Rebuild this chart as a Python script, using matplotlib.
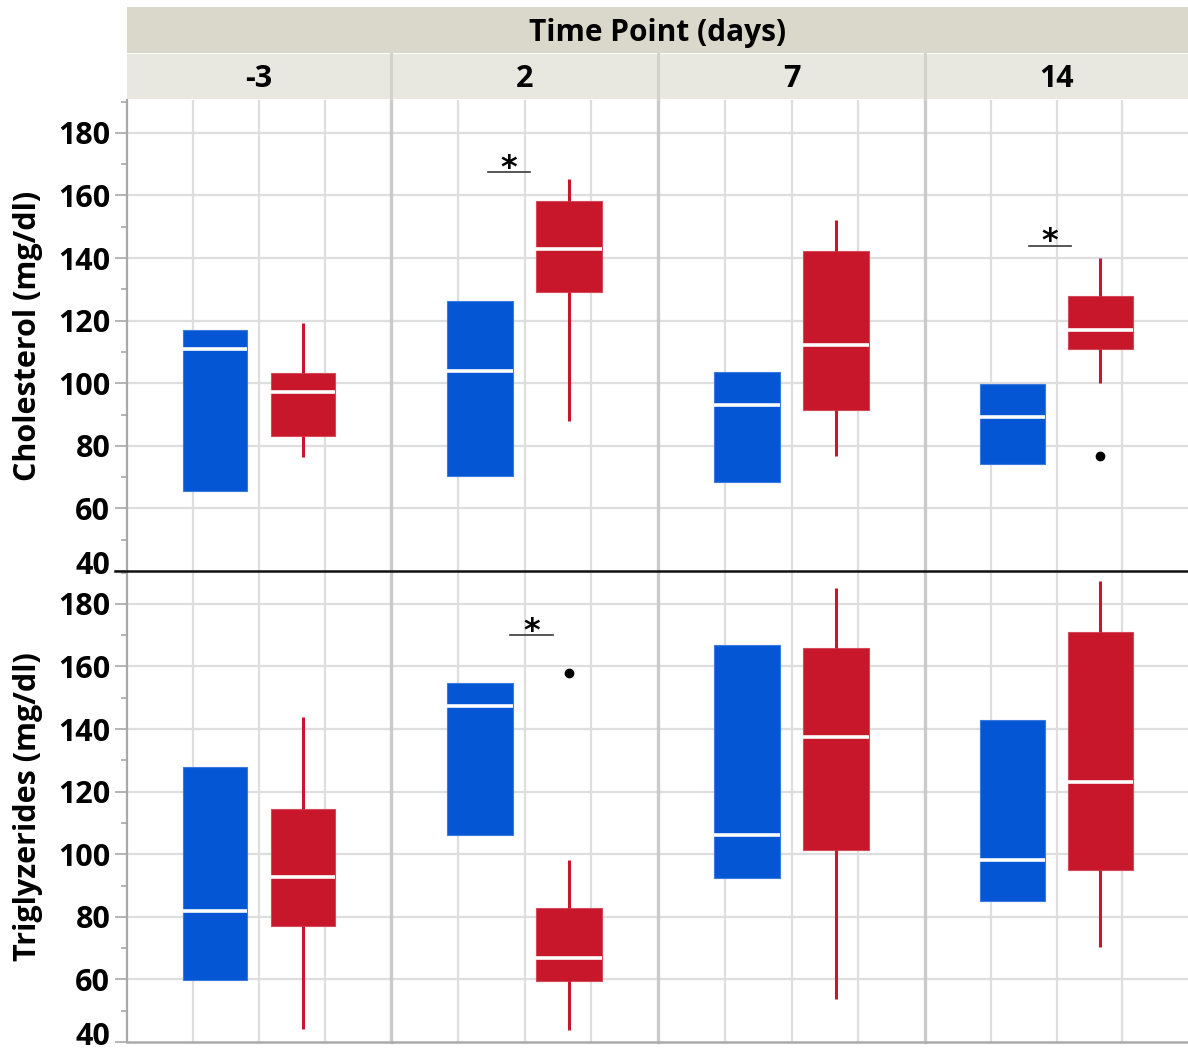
import matplotlib
matplotlib.use("Agg")
import matplotlib.pyplot as plt
from matplotlib.patches import Rectangle
from matplotlib.lines import Line2D
from matplotlib.ticker import MultipleLocator, FuncFormatter

plt.rcParams['font.family'] = ['Open Sans', 'DejaVu Sans']

# ---------------- data ----------------
time_points = ['-3', '2', '7', '14']
measures = ['Cholesterol (mg/dl)', 'Triglyzerides (mg/dl)']
header_title = 'Time Point (days)'

# Cholesterol, blue group (box only)
chol_blue_q1 = [65.6, 70.3, 68.3, 74.3]
chol_blue_med = [110.9, 103.8, 92.9, 89.1]
chol_blue_q3 = [116.9, 126.3, 103.7, 99.8]
# Cholesterol, red group
chol_red_lo = [76.4, 88.0, 76.9, 100.0]
chol_red_q1 = [83.0, 129.2, 91.3, 111.0]
chol_red_med = [97.3, 142.8, 112.1, 117.0]
chol_red_q3 = [103.2, 158.1, 142.1, 127.8]
chol_red_hi = [119.1, 165.1, 152.1, 140.0]
chol_red_out = [[], [], [], [76.9]]

# Triglyzerides, blue group (box only)
trig_blue_q1 = [59.7, 106.0, 92.4, 85.2]
trig_blue_med = [81.8, 147.3, 106.0, 98.3]
trig_blue_q3 = [127.9, 154.8, 167.0, 142.8]
# Triglyzerides, red group
trig_red_lo = [44.0, 43.7, 53.8, 70.3]
trig_red_q1 = [77.0, 59.4, 101.2, 95.1]
trig_red_med = [92.8, 66.9, 137.4, 123.0]
trig_red_q3 = [114.3, 82.7, 165.9, 170.9]
trig_red_hi = [143.9, 98.1, 185.1, 187.4]
trig_red_out = [[], [157.9], [], []]

# significance marks: (row, column, x0, x1, y)
sig_rows = [0, 0, 1]
sig_cols = [1, 3, 1]
sig_x0 = [0.362, 0.394, 0.445]
sig_x1 = [0.522, 0.555, 0.606]
sig_y = [167.5, 144.0, 170.0]

y_ticks = [40, 60, 80, 100, 120, 140, 160, 180]
y_min = 40

# ---------------- layout ----------------
W, H = 1188, 1053
BLUE = '#0556D4'
RED = '#C8162A'
fig = plt.figure(figsize=(W / 100, H / 100), dpi=100)

def fx(x):
    return x / W

def fy(y):
    return 1 - y / H

col_edges = [127, 391, 658, 925, 1188]
row_edges = [100, 571, 1042]

# header
fig.add_artist(Rectangle((fx(127), fy(53)), fx(1188) - fx(127), fy(7) - fy(53),
                         transform=fig.transFigure, facecolor='#DAD8CB', edgecolor='none'))
fig.add_artist(Rectangle((fx(127), fy(99)), fx(1188) - fx(127), fy(54) - fy(99),
                         transform=fig.transFigure, facecolor='#E8E8E0', edgecolor='none'))
fig.add_artist(Line2D([fx(127), fx(1188)], [fy(53.5), fy(53.5)], transform=fig.transFigure,
                      color='#ECEBE3', lw=1))
fig.text((fx(127) + fx(1188)) / 2, fy(33), header_title, ha='center', va='center',
         fontsize=21.5, fontweight='bold', color='black')
for i, tp in enumerate(time_points):
    cx = (col_edges[i] + col_edges[i + 1]) / 2
    fig.text(fx(cx), fy(79), tp, ha='center', va='center', fontsize=22,
             fontweight='bold', color='black')
    if i > 0:
        fig.add_artist(Line2D([fx(col_edges[i])] * 2, [fy(54), fy(99)],
                              transform=fig.transFigure, color='#D4D3CA', lw=2.2))

rows_data = [
    (chol_blue_q1, chol_blue_med, chol_blue_q3,
     chol_red_lo, chol_red_q1, chol_red_med, chol_red_q3, chol_red_hi, chol_red_out),
    (trig_blue_q1, trig_blue_med, trig_blue_q3,
     trig_red_lo, trig_red_q1, trig_red_med, trig_red_q3, trig_red_hi, trig_red_out),
]

box_w = 0.245
for r in range(2):
    bq1, bmed, bq3, rlo, rq1, rmed, rq3, rhi, rout = rows_data[r]
    for c in range(4):
        x0, x1 = col_edges[c], col_edges[c + 1]
        y0, y1 = row_edges[r], row_edges[r + 1]
        ax = fig.add_axes([fx(x0), fy(y1), fx(x1) - fx(x0), fy(y0) - fy(y1)])
        ax.set_xlim(0, 1)
        ax.set_ylim(y_min, 190.5)
        ax.set_axisbelow(True)
        ax.patch.set_alpha(0)
        # grid
        for gx in [0.25, 0.5, 0.75]:
            ax.axvline(gx, color='#DEDEDE', lw=1.6, zorder=0)
        for gy in y_ticks[1:]:
            ax.axhline(gy, color='#DEDEDE', lw=1.6, zorder=0)

        blue_stats = [dict(med=bmed[c], q1=bq1[c], q3=bq3[c], whislo=bq1[c],
                           whishi=bq3[c], fliers=[])]
        red_stats = [dict(med=rmed[c], q1=rq1[c], q3=rq3[c], whislo=rlo[c],
                          whishi=rhi[c], fliers=rout[c])]
        ax.bxp(blue_stats, positions=[1 / 3], widths=box_w, patch_artist=True,
               showcaps=False, manage_ticks=False,
               boxprops=dict(facecolor=BLUE, edgecolor='#3B7BE0', lw=0.8),
               medianprops=dict(color='white', lw=2.6, solid_capstyle='butt'),
               whiskerprops=dict(lw=0))
        ax.bxp(red_stats, positions=[2 / 3], widths=box_w, patch_artist=True,
               showcaps=False, manage_ticks=False,
               boxprops=dict(facecolor=RED, edgecolor='#D44A5A', lw=0.8),
               medianprops=dict(color='white', lw=2.6, solid_capstyle='butt'),
               whiskerprops=dict(color=RED, lw=2.2, solid_capstyle='butt'),
               flierprops=dict(marker='o', markerfacecolor='black',
                               markeredgecolor='black', markersize=6))

        for k in range(len(sig_rows)):
            if sig_rows[k] == r and sig_cols[k] == c:
                ax.plot([sig_x0[k], sig_x1[k]], [sig_y[k], sig_y[k]],
                        color='#3A3A3A', lw=1.2)
                ax.annotate('*', xy=((sig_x0[k] + sig_x1[k]) / 2, sig_y[k]),
                            xytext=(0, -3.5), textcoords='offset points',
                            ha='center', va='baseline', fontsize=23,
                            fontweight='bold', family='DejaVu Sans', color='black')

        ax.set_xticks([])
        ax.yaxis.set_major_locator(MultipleLocator(20))
        ax.yaxis.set_minor_locator(MultipleLocator(10))
        for s in ['top', 'right']:
            ax.spines[s].set_visible(False)
        if r == 0:
            ax.spines['bottom'].set_visible(False)
        else:
            ax.spines['bottom'].set_color('#AAAAAA')
            ax.spines['bottom'].set_linewidth(1.8)
        if c == 0:
            ax.spines['left'].set_color('#A8A8A8')
            ax.spines['left'].set_linewidth(1.6)
            ax.yaxis.set_major_formatter(
                FuncFormatter(lambda v, p: '' if abs(v - y_min) < 1e-6 else f'{v:.0f}'))
            ax.tick_params(axis='y', which='major', length=9, width=1.2,
                           color='#A8A8A8', labelsize=22, pad=3)
            ax.tick_params(axis='y', which='minor', length=4, width=1.2,
                           color='#A8A8A8')
            for lab in ax.get_yticklabels():
                lab.set_fontweight('bold')
            # lowest label, nudged up a little as in the original
            ax.annotate(f'{y_min}', xy=(0, y_min), xycoords=('axes fraction', 'data'),
                        xytext=(-12, 3.5), textcoords='offset points',
                        ha='right', va='center', fontsize=22, fontweight='bold',
                        color='black', annotation_clip=False)
        else:
            ax.spines['left'].set_color('#CACACA')
            ax.spines['left'].set_linewidth(2.4)
            ax.tick_params(axis='y', which='both', length=0, labelleft=False)

    cy = (row_edges[r] + row_edges[r + 1]) / 2
    fig.text(fx(28), fy(cy), measures[r], rotation=90, ha='center', va='center',
             fontsize=22, fontweight='bold', color='black')

# black separator between the two rows
fig.add_artist(Line2D([fx(115), fx(1188)], [fy(571), fy(571)], transform=fig.transFigure,
                      color='#111111', lw=1.8, zorder=10))

fig.savefig('out.png', dpi=100)
